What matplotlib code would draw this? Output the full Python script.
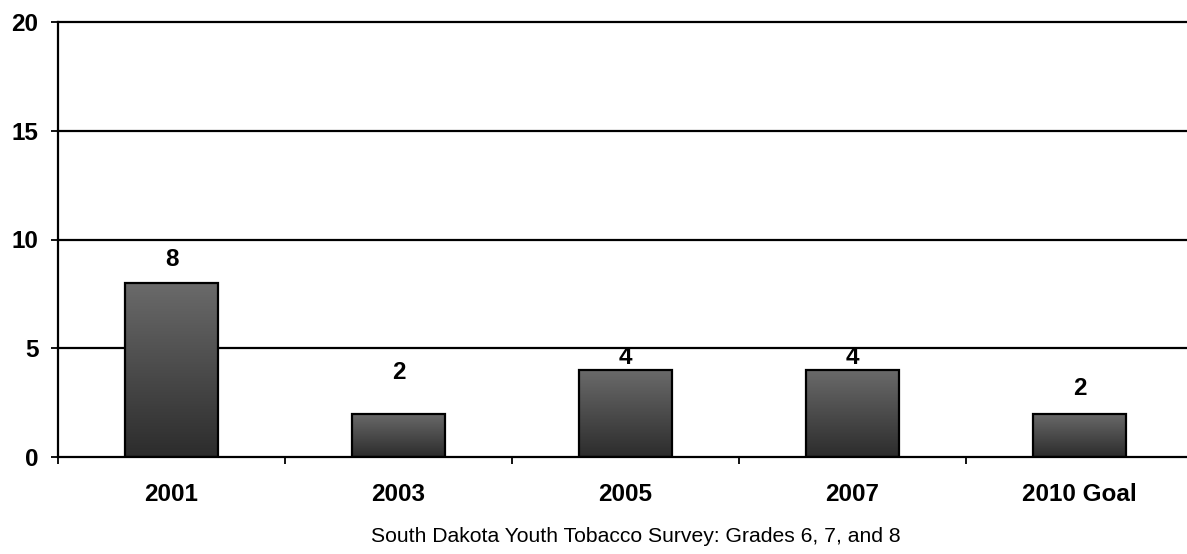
import numpy as np
import matplotlib
matplotlib.use("Agg")
import matplotlib.pyplot as plt
from matplotlib.colors import LinearSegmentedColormap

categories = ["2001", "2003", "2005", "2007", "2010 Goal"]
values = [8, 2, 4, 4, 2]
y_ticks = [0, 5, 10, 15, 20]
caption = "South Dakota Youth Tobacco Survey: Grades 6, 7, and 8"

# per-label vertical offsets (pixels from bar top to label centre)
label_offsets = [23, 41, 12, 12, 25]

plt.rcParams["font.family"] = ["Liberation Sans", "DejaVu Sans"]

W, H = 1187, 554
fig = plt.figure(figsize=(W / 100, H / 100), dpi=100)
left, right, top, bottom = 58, 1193, 22, 457
ax = fig.add_axes([left / W, 1 - bottom / H, (right - left) / W, (bottom - top) / H])

x = np.arange(len(categories))
bars = ax.bar(x, values, width=0.41, facecolor="none", edgecolor="black",
              linewidth=1.6, zorder=3)

cmap = LinearSegmentedColormap.from_list("barshade", ["#2c2c2c", "#6a6a6a"])
grad = np.linspace(0, 1, 256).reshape(-1, 1)
for b in bars:
    x0, y0 = b.get_x(), b.get_y()
    w, h = b.get_width(), b.get_height()
    im = ax.imshow(grad, cmap=cmap, origin="lower", aspect="auto",
                   extent=[x0, x0 + w, y0, y0 + h], zorder=2)
    im.set_clip_path(b)

ax.set_xlim(-0.5, len(categories) - 0.5)
ax.set_ylim(0, 20)

for i, v in enumerate(values):
    ax.annotate(str(v), (x[i], v), xytext=(0, label_offsets[i] * 0.72),
                textcoords="offset points", ha="center", va="center",
                fontsize=17.5, fontweight="bold")

ax.set_yticks(y_ticks)
ax.set_yticklabels([str(t) for t in y_ticks], fontsize=17.5, fontweight="bold")
ax.set_xticks(x)
ax.set_xticklabels(categories, fontsize=17.5, fontweight="bold")
ax.set_xticks(np.arange(-0.5, len(categories)), minor=True)
ax.tick_params(axis="x", which="major", length=0, pad=19)
ax.tick_params(axis="x", which="minor", length=5, width=1.3, direction="out")
ax.tick_params(axis="y", length=5, width=1.3, pad=9)

for yv in y_ticks[1:]:
    ax.axhline(yv, color="black", linewidth=1.6, zorder=1, clip_on=False)

for s in ["top", "right"]:
    ax.spines[s].set_visible(False)
ax.spines["left"].set_linewidth(1.6)
ax.spines["bottom"].set_linewidth(1.6)
ax.spines["bottom"].set_zorder(4)

fig.text(636 / W, 1 - 537 / H, caption, ha="center", va="center", fontsize=15.2)

fig.savefig("out.png", dpi=100)
